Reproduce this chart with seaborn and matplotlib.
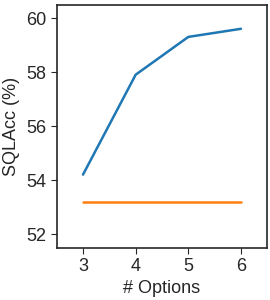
import pandas as pd
import matplotlib.pyplot as plt
import seaborn as sns

# data
num_options = [3, 4, 5, 6]
sqlacc_ours = [54.2, 57.9, 59.3, 59.6]
sqlacc_base = [53.2, 53.2, 53.2, 53.2]

df = pd.DataFrame({
    'options': num_options * 2,
    'acc': sqlacc_ours + sqlacc_base,
    'method': ['ours'] * 4 + ['base'] * 4,
})

sns.set_style('ticks')
plt.rcParams['font.family'] = ['Liberation Sans', 'DejaVu Sans']

fig, ax = plt.subplots(figsize=(2.7, 3.0), dpi=100)
sns.lineplot(data=df, x='options', y='acc', hue='method', palette=['#1f77b4', '#ff7f0e'],
             linewidth=1.8, legend=False, ax=ax)
ax.set_xlim(2.5, 6.5)
ax.set_ylim(51.5, 60.5)
ax.set_xticks(num_options)
ax.set_yticks([52, 54, 56, 58, 60])
ax.tick_params(labelsize=13, length=4)
ax.set_xlabel('# Options', fontsize=13)
ax.set_ylabel('SQLAcc (%)', fontsize=13)
for s in ax.spines.values():
    s.set_linewidth(1.2)
fig.subplots_adjust(left=0.21, right=0.99, top=0.985, bottom=0.175)
fig.savefig('out.png', dpi=100)
